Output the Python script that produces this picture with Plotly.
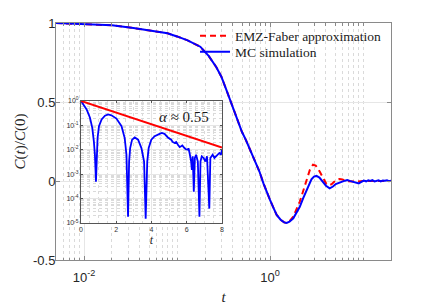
import plotly.graph_objects as go

# ---------------- data ----------------
mc_t = [0.005, 0.01, 0.02, 0.034, 0.05, 0.079, 0.1, 0.13, 0.178, 0.22, 0.265, 0.3, 0.338,
        0.4, 0.45, 0.5, 0.55, 0.611, 0.69, 0.77, 0.85, 0.92, 1.0, 1.09, 1.18, 1.3, 1.42,
        1.51, 1.62, 1.78, 1.93, 2.09, 2.27, 2.47, 2.63, 2.79, 2.97, 3.16, 3.4, 3.72, 4.0,
        4.38, 4.75, 5.09, 5.5, 5.99, 6.4, 6.77, 7.2, 7.67, 8.3, 9.0, 9.6, 10.2, 10.8, 11.4,
        12.0, 12.6, 13.3, 14.0, 14.7, 15.5, 16.3, 17.2, 18.1, 19.0, 20.0]
mc_c = [1.0, 0.994, 0.985, 0.968, 0.955, 0.935, 0.915, 0.89, 0.85, 0.79, 0.72, 0.66, 0.58,
        0.46, 0.38, 0.31, 0.26, 0.196, 0.133, 0.06, -0.015, -0.07, -0.12, -0.17, -0.215,
        -0.245, -0.262, -0.265, -0.258, -0.236, -0.2, -0.163, -0.11, -0.057, -0.02, 0.011,
        0.028, 0.032, 0.022, -0.004, -0.03, -0.046, -0.035, -0.019, -0.01, -0.004, 0.002,
        0.006, 0.001, -0.004, -0.01, -0.015, -0.006, 0.003, -0.002, 0.004, 0.0, 0.005,
        -0.003, 0.002, 0.004, -0.002, 0.003, 0.001, 0.004, -0.001, 0.002]

emz_t = [0.005, 0.01, 0.02, 0.034, 0.05, 0.079, 0.1, 0.13, 0.178, 0.22, 0.265, 0.3, 0.338,
         0.4, 0.45, 0.5, 0.55, 0.611, 0.69, 0.77, 0.85, 0.92, 1.0, 1.09, 1.18, 1.3, 1.42,
         1.51, 1.62, 1.78, 1.93, 2.09, 2.27, 2.47, 2.68, 2.9, 3.1, 3.42, 3.72, 4.04, 4.3,
         4.6, 4.9, 5.3, 5.6, 6.0, 6.6, 7.5, 8.5, 10.0, 12.0, 15.0, 20.0]
emz_c = [1.0, 0.994, 0.985, 0.968, 0.955, 0.935, 0.915, 0.89, 0.85, 0.79, 0.72, 0.66, 0.58,
         0.46, 0.38, 0.31, 0.26, 0.196, 0.133, 0.06, -0.015, -0.07, -0.12, -0.17, -0.215,
         -0.245, -0.262, -0.265, -0.255, -0.225, -0.18, -0.13, -0.065, 0.0, 0.07, 0.103,
         0.098, 0.06, 0.019, -0.019, -0.027, -0.02, -0.005, 0.009, 0.013, 0.01, 0.0,
         -0.004, -0.005, 0.0, 0.002, 0.0, 0.0]

# inset: |C(t)| on a log scale
ins_t = [0.0, 0.32, 0.51, 0.64, 0.73, 0.79, 0.85, 0.90, 0.94, 1.02, 1.17, 1.36, 1.54, 1.73,
         2.01, 2.30, 2.48, 2.58, 2.67, 2.73, 2.79, 2.90, 3.05, 3.24, 3.43, 3.58, 3.67, 3.76,
         3.84, 3.99, 4.18, 4.46, 4.59, 4.74, 4.93, 5.12, 5.2, 5.31, 5.4, 5.50, 5.6, 5.68,
         5.75, 5.87, 5.95, 6.06, 6.1, 6.16, 6.25, 6.29, 6.34, 6.40, 6.46, 6.53, 6.63, 6.72,
         6.78, 6.85, 6.96, 7.06, 7.15, 7.28, 7.34, 7.47, 7.57, 7.66, 7.76, 7.85, 7.94, 8.0]
ins_c = [1.0, 0.45, 0.205, 0.079, 0.022, 0.0063, 0.00049, 0.0063, 0.030, 0.093, 0.175, 0.25,
         0.28, 0.26, 0.19, 0.093, 0.030, 0.0063, 1.8e-5, 0.0033, 0.0118, 0.026, 0.032, 0.026,
         0.0118, 0.0033, 1.5e-5, 0.0033, 0.0118, 0.026, 0.036, 0.045, 0.049, 0.045, 0.032,
         0.026, 0.021, 0.019, 0.021, 0.016, 0.013, 0.014, 0.015, 0.0118, 0.0105, 0.010,
         0.0115, 0.0074, 0.0033, 0.0015, 0.0054, 0.00019, 0.0046, 0.0063, 0.0033, 1.8e-5,
         0.0033, 0.0054, 0.0046, 0.0033, 0.0054, 3.9e-5, 0.0046, 0.0063, 0.0046, 0.0054,
         0.0063, 0.0074, 0.0063, 0.010]

fit_t = [0.0, 8.0]
fit_c = [1.0, 0.0123]
fit_label = "<i>α</i> ≈ 0.55"

main_xtick_vals = [0.01, 1]
main_xtick_text = ["10<sup>-2</sup>", "10<sup>0</sup>"]
main_ytick_vals = [-0.5, 0, 0.5, 1]
main_ytick_text = ["-0.5", "0", "0.5", "1"]
ins_ytick_vals = [1, 0.1, 0.01, 0.001, 1e-4, 1e-5]
ins_ytick_text = ["10<sup>0</sup>", "10<sup>-1</sup>", "10<sup>-2</sup>",
                  "10<sup>-3</sup>", "10<sup>-4</sup>", "10<sup>-5</sup>"]
ins_xtick_vals = [0, 2, 4, 6, 8]

# ---------------- figure ----------------
SERIF = "Liberation Serif"
SANS = "Liberation Sans, Arial, sans-serif"
GRID = "#e6e6e6"
MINOR = "#dadada"
AX = "#8a8a8a"


def minor_log(lo_exp, hi_exp, lo, hi, include_decades=False):
    vals = []
    for e in range(lo_exp, hi_exp + 1):
        ks = range(1, 10) if include_decades else range(2, 10)
        for k in ks:
            v = k * 10.0 ** e
            if lo <= v <= hi:
                vals.append(v)
    return vals


main_minor = [v for v in minor_log(-3, 1, 0.005, 20, include_decades=True)
              if v not in (0.01, 1.0)]

fig = go.Figure()
fig.add_trace(go.Scatter(x=emz_t, y=emz_c, mode="lines", name="EMZ-Faber approximation",
                         line=dict(color="#ff0000", width=2, dash="6px,4px"),
                         xaxis="x", yaxis="y", legend="legend"))
fig.add_trace(go.Scatter(x=mc_t, y=mc_c, mode="lines", name="MC simulation",
                         line=dict(color="#0000ff", width=2), xaxis="x", yaxis="y",
                         legend="legend2"))
fig.add_trace(go.Scatter(x=ins_t, y=ins_c, mode="lines", showlegend=False,
                         line=dict(color="#0000ff", width=1.8), xaxis="x2", yaxis="y2"))
fig.add_trace(go.Scatter(x=fit_t, y=fit_c, mode="lines", showlegend=False,
                         line=dict(color="#ff0000", width=2), xaxis="x2", yaxis="y2"))

legend_common = dict(xanchor="left", yanchor="middle", bgcolor="rgba(0,0,0,0)",
                     borderwidth=0, itemwidth=30,
                     font=dict(family=SERIF, size=13.5, color="#1a1a1a"))

fig.update_layout(
    width=432, height=305,
    margin=dict(l=56, r=41, t=23, b=45, autoexpand=False),
    paper_bgcolor="white", plot_bgcolor="white",
    showlegend=True,
    legend=dict(x=0.415, y=0.945, **legend_common),
    legend2=dict(x=0.415, y=0.878, **legend_common),
    xaxis=dict(type="log", range=[-2.30103, 1.30103], domain=[0, 1],
               tickmode="array", tickvals=main_xtick_vals, ticktext=main_xtick_text,
               ticks="inside", ticklen=4, tickcolor=AX, showline=True, linecolor=AX,
               linewidth=1, mirror="ticks", showgrid=True, gridcolor=GRID,
               ticklabelstandoff=5,
               tickfont=dict(family=SANS, size=13, color="#262626"),
               title=dict(text="<i>t</i>", font=dict(family=SERIF, size=15, color="#262626"),
                          standoff=10),
               minor=dict(tickmode="array", tickvals=main_minor,
                          ticks="inside", ticklen=2.5, tickcolor=AX, showgrid=True,
                          gridcolor=MINOR, griddash="dot"),
               zeroline=False),
    yaxis=dict(range=[-0.5, 1], domain=[0, 1],
               tickmode="array", tickvals=main_ytick_vals, ticktext=main_ytick_text,
               ticks="inside", ticklen=4, tickcolor=AX, showline=True, linecolor=AX,
               linewidth=1, mirror="ticks", showgrid=True, gridcolor=GRID,
               ticklabelstandoff=-3,
               tickfont=dict(family=SANS, size=13, color="#262626"),
               title=dict(text="<i>C</i>(<i>t</i>)/<i>C</i>(0)",
                          font=dict(family=SERIF, size=15, color="#262626"), standoff=3),
               zeroline=False),
    xaxis2=dict(range=[0, 8], domain=[0.0746, 0.4955], anchor="y2",
                tickmode="array", tickvals=ins_xtick_vals,
                ticks="inside", ticklen=2, tickcolor="#555", showline=True,
                linecolor="#555", linewidth=1, mirror="ticks", showgrid=True,
                gridcolor=GRID, tickfont=dict(family=SANS, size=7, color="#333"),
                title=dict(text="<i>t</i>", font=dict(family=SERIF, size=12, color="#262626"),
                           standoff=1),
                minor=dict(dtick=0.5, showgrid=True, gridcolor=MINOR, griddash="dot"),
                zeroline=False),
    yaxis2=dict(type="log", range=[-5, 0], domain=[0.156, 0.671], anchor="x2",
                tickmode="array", tickvals=ins_ytick_vals, ticktext=ins_ytick_text,
                ticks="inside", ticklen=2, tickcolor="#555", showline=True,
                linecolor="#555", linewidth=1, mirror="ticks", showgrid=True,
                gridcolor=GRID, tickfont=dict(family=SANS, size=7, color="#333"),
                minor=dict(tickmode="array", tickvals=minor_log(-5, -1, 1e-5, 1),
                           showgrid=True, gridcolor=MINOR, griddash="dot"),
                zeroline=False),
    annotations=[dict(x=5.82, y=-0.66, xref="x2", yref="y2", text=fit_label,
                      showarrow=False, font=dict(family=SERIF, size=15, color="#1a1a1a"))],
)

fig.write_html("out.html", config={"displayModeBar": False},
               post_script="document.body.style.margin='0px';")
